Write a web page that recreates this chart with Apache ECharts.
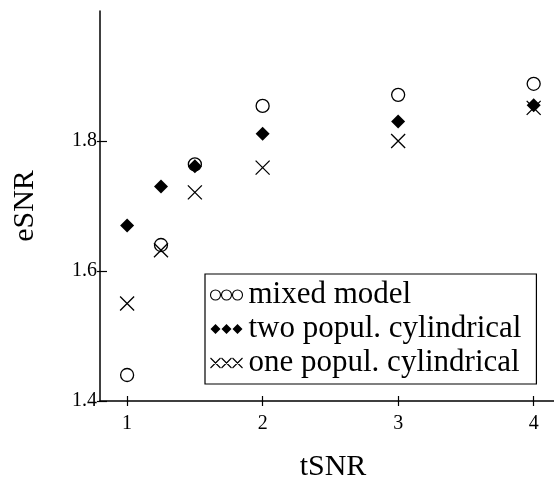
<!DOCTYPE html>
<html>
<head>
<meta charset="utf-8">
<script src="https://cdn.jsdelivr.net/npm/echarts@6/dist/echarts.min.js"></script>
<style>
  html, body { margin: 0; padding: 0; background: #fff; }
  #chart { width: 554px; height: 487px; }
</style>
</head>
<body>
<div id="chart"></div>
<script>
// values
const tSNR = [1, 1.25, 1.5, 2, 3, 4];
const mixedModel = [1.44, 1.64, 1.764, 1.854, 1.871, 1.888];
const twoPopul = [1.67, 1.73, 1.761, 1.811, 1.83, 1.855];
const onePopul = [1.55, 1.632, 1.721, 1.759, 1.80, 1.851];
const seriesNames = ['mixed model', 'two popul. cylindrical', 'one popul. cylindrical'];
const xTicks = [1, 2, 3, 4];
const yTicks = [1.4, 1.6, 1.8];

const FONT = '"Liberation Serif", "DejaVu Serif", serif';
const pairs = ys => tSNR.map((x, i) => [x, ys[i]]);

const CROSS = 'path://M0,0L10,10M0,10L10,0';
const ICON_CIRCLES = 'path://M0,5a5,5 0 1,0 10,0a5,5 0 1,0 -10,0M11,5a5,5 0 1,0 10,0a5,5 0 1,0 -10,0M22,5a5,5 0 1,0 10,0a5,5 0 1,0 -10,0';
const ICON_DIAMONDS = 'path://M5,0L10,5L5,10L0,5ZM16,0L21,5L16,10L11,5ZM27,0L32,5L27,10L22,5Z';
const ICON_CROSSES = 'path://M0,0L10,10M0,10L10,0M11,0L21,10M11,10L21,0M22,0L32,10M22,10L32,0';

// grid box in px
const GRID_LEFT = 100, GRID_TOP = 11, GRID_BOTTOM = 85, W = 554, H = 487;
const GRID_W = W - GRID_LEFT;
const GRID_H = H - GRID_TOP - GRID_BOTTOM;

const chart = echarts.init(document.getElementById('chart'), null, { renderer: 'canvas' });

chart.setOption({
  animation: false,
  backgroundColor: '#fff',
  grid: { left: GRID_LEFT, top: GRID_TOP, right: 0, bottom: GRID_BOTTOM },
  xAxis: [
    {
      type: 'value', min: 0.8, max: 4.15, position: 'bottom',
      splitLine: { show: false },
      name: 'tSNR', nameLocation: 'middle', nameGap: 51,
      nameTextStyle: { fontFamily: FONT, fontSize: 30, color: '#000', padding: [0, 0, 0, 12] },
      axisLine: { show: true, lineStyle: { color: '#000', width: 1.5 } },
      axisTick: { show: true, length: 5, customValues: xTicks, lineStyle: { color: '#000', width: 1.2 } },
      axisLabel: { customValues: xTicks, fontFamily: FONT, fontSize: 20, color: '#000', margin: 13 },
    },
    {
      // a top axis pulled down onto the bottom line: its outward ticks point up into the plot
      type: 'value', min: 0.8, max: 4.15, position: 'top', offset: -GRID_H,
      splitLine: { show: false },
      axisLine: { show: false },
      axisTick: { show: true, length: 6, customValues: xTicks, lineStyle: { color: '#000', width: 1.2 } },
      axisLabel: { show: true, customValues: xTicks, fontSize: 10, color: 'rgba(0,0,0,0)' },
    },
  ],
  yAxis: [
    {
      type: 'value', min: 1.4, max: 2.0, position: 'left',
      splitLine: { show: false },
      name: 'eSNR', nameLocation: 'middle', nameGap: 60,
      nameTextStyle: { fontFamily: FONT, fontSize: 30, color: '#000' },
      axisLine: { show: true, lineStyle: { color: '#000', width: 1.5 } },
      axisTick: { show: true, length: 3, customValues: yTicks, lineStyle: { color: '#000', width: 1.2 } },
      axisLabel: { customValues: yTicks, fontFamily: FONT, fontSize: 20, color: '#000', margin: 3,
        formatter: v => v.toFixed(1) },
    },
    {
      // a right axis pulled over onto the left line: its outward ticks point into the plot
      type: 'value', min: 1.4, max: 2.0, position: 'right', offset: -GRID_W,
      splitLine: { show: false },
      axisLine: { show: false },
      axisTick: { show: true, length: 7, customValues: yTicks, lineStyle: { color: '#000', width: 1.2 } },
      axisLabel: { show: true, customValues: yTicks, fontSize: 10, color: 'rgba(0,0,0,0)' },
    },
  ],
  legend: {
    orient: 'vertical',
    left: 205, top: 274,
    padding: [5, 15, 5, 3],
    borderColor: '#000', borderWidth: 1.2,
    itemWidth: 34, itemHeight: 10, itemGap: 2,
    symbolKeepAspect: true,
    textStyle: { fontFamily: FONT, fontSize: 31, color: '#000', lineHeight: 32 },
    data: [
      { name: seriesNames[0], icon: ICON_CIRCLES, itemStyle: { color: '#fff', borderColor: '#000', borderWidth: 1.1 } },
      { name: seriesNames[1], icon: ICON_DIAMONDS, itemStyle: { color: '#000', borderColor: '#000', borderWidth: 0 } },
      { name: seriesNames[2], icon: ICON_CROSSES, itemStyle: { color: 'none', borderColor: '#000', borderWidth: 1.1 } },
    ],
  },
  series: [
    {
      name: seriesNames[0], type: 'scatter', data: pairs(mixedModel),
      symbol: 'circle', symbolSize: 13,
      itemStyle: { color: '#fff', borderColor: '#000', borderWidth: 1.3, opacity: 1 },
    },
    {
      name: seriesNames[1], type: 'scatter', data: pairs(twoPopul),
      symbol: 'diamond', symbolSize: 14,
      itemStyle: { color: '#000', opacity: 1 },
    },
    {
      name: seriesNames[2], type: 'scatter', data: pairs(onePopul),
      symbol: CROSS, symbolSize: 14,
      itemStyle: { color: 'none', borderColor: '#000', borderWidth: 1.3, opacity: 1 },
    },
    // empty series bound to the tick-only axes
    { type: 'scatter', xAxisIndex: 1, yAxisIndex: 1, data: [], silent: true },
  ],
});
</script>
</body>
</html>
